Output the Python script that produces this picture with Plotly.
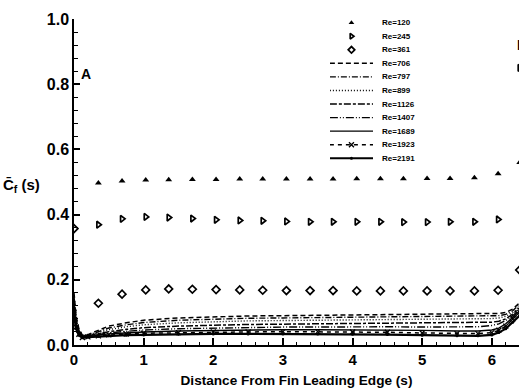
import plotly.graph_objects as go

# ---------------- data ----------------
sym_x = [0.35, 0.69, 1.03, 1.36, 1.70, 2.04, 2.38, 2.71, 3.05, 3.39, 3.72, 4.06,
         4.40, 4.73, 5.07, 5.40, 5.75, 6.09, 6.40]
re120 = [0.497, 0.503, 0.506, 0.507, 0.508, 0.508, 0.509, 0.509, 0.509, 0.509,
         0.509, 0.510, 0.510, 0.510, 0.511, 0.511, 0.513, 0.525, 0.56]
re245 = [0.369, 0.387, 0.393, 0.391, 0.388, 0.384, 0.382, 0.381, 0.379, 0.378,
         0.378, 0.378, 0.378, 0.377, 0.377, 0.378, 0.378, 0.385, 0.85]
re361_x = [0.0] + sym_x
re361 = [0.357, 0.128, 0.156, 0.169, 0.172, 0.171, 0.170, 0.169, 0.168, 0.167,
         0.167, 0.167, 0.166, 0.166, 0.166, 0.166, 0.166, 0.166, 0.168, 0.23]

line_x = [0, 0.03, 0.07, 0.12, 0.2, 0.35, 0.5, 0.75, 1.0, 1.5, 2.0, 2.5, 3.0,
          3.5, 4.0, 4.5, 5.0, 5.5, 5.8, 6.0, 6.1, 6.2, 6.3, 6.4]
re706 = [0.16, 0.09, 0.05, 0.030, 0.032, 0.045, 0.058, 0.068, 0.076, 0.083, 0.087, 0.089,
         0.090, 0.091, 0.092, 0.093, 0.094, 0.095, 0.095, 0.096, 0.097, 0.100, 0.110, 0.130]
re797 = [0.15, 0.08, 0.045, 0.028, 0.030, 0.040, 0.052, 0.062, 0.069, 0.076, 0.080, 0.082,
         0.083, 0.084, 0.085, 0.086, 0.087, 0.088, 0.088, 0.089, 0.090, 0.094, 0.105, 0.125]
re899 = [0.14, 0.075, 0.042, 0.027, 0.029, 0.037, 0.047, 0.056, 0.062, 0.068, 0.072, 0.074,
         0.075, 0.076, 0.077, 0.078, 0.079, 0.080, 0.080, 0.081, 0.083, 0.088, 0.100, 0.120]
re1126 = [0.13, 0.07, 0.04, 0.026, 0.028, 0.034, 0.041, 0.048, 0.053, 0.058, 0.061, 0.063,
          0.064, 0.065, 0.066, 0.066, 0.067, 0.067, 0.068, 0.070, 0.073, 0.080, 0.095, 0.115]
re1407 = [0.12, 0.065, 0.038, 0.025, 0.027, 0.032, 0.037, 0.042, 0.046, 0.050, 0.052, 0.054,
          0.055, 0.055, 0.056, 0.056, 0.055, 0.055, 0.056, 0.060, 0.065, 0.075, 0.090, 0.110]
re1689 = [0.11, 0.06, 0.035, 0.024, 0.026, 0.030, 0.034, 0.037, 0.040, 0.043, 0.045, 0.046,
          0.047, 0.047, 0.047, 0.046, 0.045, 0.043, 0.043, 0.046, 0.052, 0.065, 0.085, 0.105]
re1923 = [0.10, 0.055, 0.033, 0.023, 0.025, 0.028, 0.031, 0.034, 0.036, 0.038, 0.040, 0.040,
          0.041, 0.041, 0.040, 0.039, 0.037, 0.035, 0.035, 0.038, 0.045, 0.058, 0.080, 0.100]
re2191 = [0.09, 0.05, 0.03, 0.022, 0.024, 0.026, 0.028, 0.030, 0.031, 0.033, 0.034, 0.034,
          0.034, 0.034, 0.033, 0.032, 0.030, 0.028, 0.028, 0.031, 0.038, 0.050, 0.070, 0.090]

x_ticks = [0, 1, 2, 3, 4, 5, 6]
y_ticks = [0.0, 0.2, 0.4, 0.6, 0.8, 1.0]
y_tick_text = ["0.0", "0.2", "0.4", "0.6", "0.8", "1.0"]

# ---------------- styles ----------------
FONT = "Liberation Sans"
marker_series = [
    ("Re=120", sym_x, re120, dict(symbol="triangle-up", size=6, color="black")),
    ("Re=245", sym_x, re245, dict(symbol="triangle-right-open", size=6, color="black",
                                  line=dict(width=1.7, color="black"))),
    ("Re=361", re361_x, re361, dict(symbol="diamond-open", size=6, color="black",
                                    line=dict(width=1.7, color="black"))),
]
line_series = [
    ("Re=706", re706, dict(dash="5px,3px", width=1.5), None),
    ("Re=797", re797, dict(dash="6px,2px,1px,2px", width=1.4), None),
    ("Re=899", re899, dict(dash="1px,2px", width=1.4), None),
    ("Re=1126", re1126, dict(dash="7px,2px,3px,2px", width=1.5), None),
    ("Re=1407", re1407, dict(dash="8px,2px,1px,2px,1px,2px", width=1.4), None),
    ("Re=1689", re1689, dict(width=1.4), None),
    ("Re=1923", re1923, dict(dash="4px,4px", width=1.5),
     dict(symbol="x-thin-open", size=5, color="black", line=dict(width=1.3, color="black"))),
    ("Re=2191", re2191, dict(width=2.2), dict(symbol="circle", size=3, color="black")),
]

fig = go.Figure()

for name, xs, ys, mk in marker_series:
    fig.add_trace(go.Scatter(x=xs, y=ys, mode="markers", marker=mk, name=name,
                             showlegend=False))
for name, ys, ln, mk in line_series:
    fig.add_trace(go.Scatter(x=line_x, y=ys, mode="lines+markers" if mk else "lines",
                             line=dict(color="black", **ln), marker=mk, name=name,
                             showlegend=False))

# ---------------- hand-made legend on an inset axis ----------------
annotations = []
for i, (name, xs, ys, mk) in enumerate(marker_series):
    small = dict(mk, size=5)
    fig.add_trace(go.Scatter(x=[0.5], y=[i], mode="markers", marker=small,
                             xaxis="x2", yaxis="y2", showlegend=False, hoverinfo="skip"))
for j, (name, ys, ln, mk) in enumerate(line_series):
    i = j + len(marker_series)
    fig.add_trace(go.Scatter(x=[0, 1], y=[i, i], mode="lines",
                             line=dict(color="black", **ln),
                             xaxis="x2", yaxis="y2", showlegend=False, hoverinfo="skip"))
    if mk:
        fig.add_trace(go.Scatter(x=[0.5], y=[i], mode="markers", marker=mk,
                                 xaxis="x2", yaxis="y2", showlegend=False, hoverinfo="skip"))
all_names = [s[0] for s in marker_series] + [s[0] for s in line_series]
for i, name in enumerate(all_names):
    annotations.append(dict(x=0.688, y=i, xref="paper", yref="y2", text=name, showarrow=False,
                            xanchor="left", yanchor="middle",
                            font=dict(family=FONT, size=8, color="black", weight="bold")))

annotations += [
    dict(x=0.17, y=0.83, xref="x", yref="y", text="A", showarrow=False,
         font=dict(family=FONT, size=14, color="black", weight="bold")),
    dict(x=6.33, y=0.92, xref="x", yref="y", text="B", showarrow=False, xanchor="left",
         font=dict(family=FONT, size=14, color="black", weight="bold")),
    dict(x=-0.072, y=0.49, xref="paper", yref="paper", xanchor="right",
         text="C\u0304<sub>f</sub> (s)", showarrow=False,
         font=dict(family=FONT, size=15, color="black", weight="bold")),
]

fig.update_layout(
    width=519, height=392,
    margin=dict(l=74, r=0, t=19, b=47),
    paper_bgcolor="white", plot_bgcolor="white",
    showlegend=False,
    annotations=annotations,
    xaxis=dict(range=[0, 6.39], showline=True, linecolor="black", linewidth=1.5,
               mirror=False, showgrid=False, zeroline=False,
               tickmode="array", tickvals=x_ticks, ticktext=[str(t) for t in x_ticks],
               ticks="inside", ticklen=7, tickwidth=1.5, tickcolor="black",
               minor=dict(ticks="inside", ticklen=3, tickwidth=1, tickcolor="black",
                          dtick=0.2, tick0=0, showgrid=False),
               tickfont=dict(family=FONT, size=15, color="black", weight="bold"),
               title=dict(text="Distance From Fin Leading Edge (s)", standoff=9,
                          font=dict(family=FONT, size=13.6, color="black", weight="bold")),
               automargin=False),
    yaxis=dict(range=[0, 1.0], showline=True, linecolor="black", linewidth=1.5,
               showgrid=False, zeroline=False,
               tickmode="array", tickvals=y_ticks, ticktext=y_tick_text,
               ticks="inside", ticklen=6, tickwidth=1.5, tickcolor="black",
               minor=dict(ticks="inside", ticklen=4, tickwidth=1, tickcolor="black",
                          dtick=0.04, tick0=0, showgrid=False),
               tickfont=dict(family=FONT, size=16, color="black", weight="bold"),
               automargin=False),
    xaxis2=dict(domain=[0.575, 0.672], range=[0, 1], visible=False, anchor="y2",
                fixedrange=True),
    yaxis2=dict(domain=[0.552, 1.0], range=[10.5, -0.27], visible=False, anchor="x2",
                fixedrange=True),
)

fig.write_html("out.html")
